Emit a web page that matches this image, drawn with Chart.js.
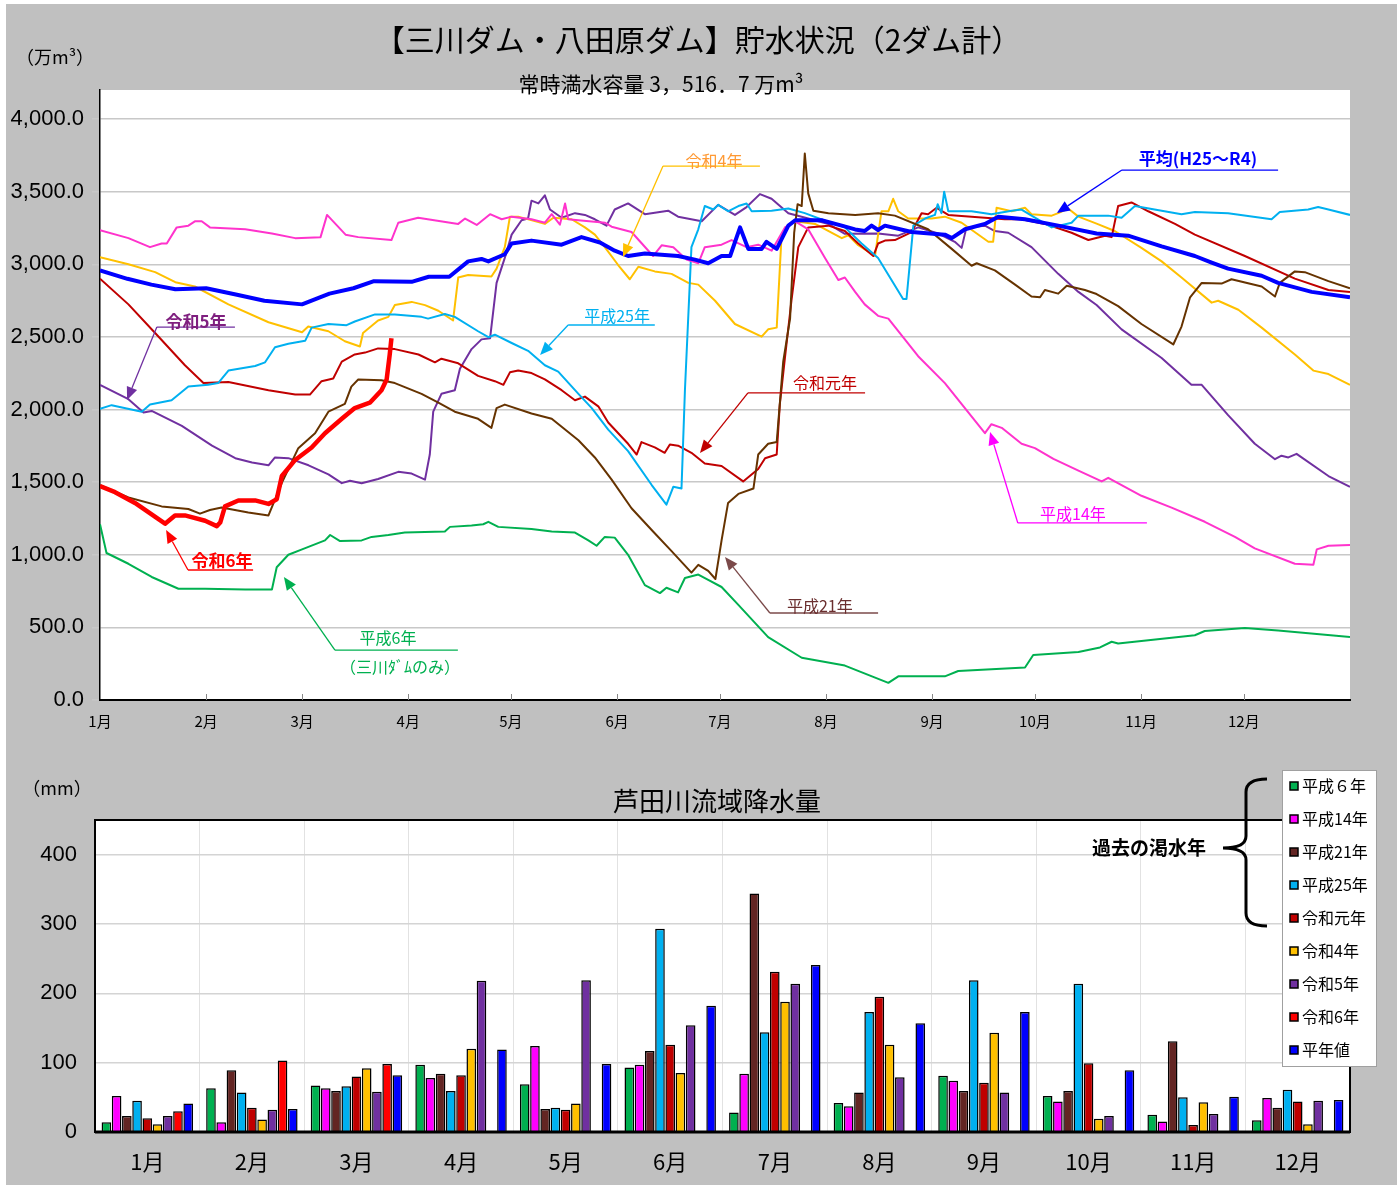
<!DOCTYPE html>
<html><head><meta charset="utf-8">
<script src="https://cdn.jsdelivr.net/npm/chart.js@4.4.1/dist/chart.umd.min.js"></script>
<style>
body{margin:0;background:#fff;width:1399px;height:1187px;overflow:hidden;position:relative}
#bg{position:absolute;left:6px;top:4px;width:1391px;height:1181px;background:#c0c0c0}
canvas{position:absolute;left:0}
</style></head>
<body>
<div id="bg"></div>
<canvas id="c1" width="1399" height="760" style="top:0"></canvas>
<canvas id="c2" width="1399" height="427" style="top:760px"></canvas>
<script>
// ---------- storage data (day of year, 万m3) ----------
const monthStarts = [0,31,59,90,120,151,181,212,243,273,304,334];
const monthLabels = ['1月','2月','3月','4月','5月','6月','7月','8月','9月','10月','11月','12月'];
const yTicksTop = [0,500,1000,1500,2000,2500,3000,3500,4000];

const avgH25R4 = [[0,2958],[8,2900],[15,2860],[22,2828],[31,2835],[40,2790],[48,2749],[59,2724],[67,2798],[74,2835],[80,2884],[91,2879],[96,2914],[102,2914],[107.5,3020],[111.4,3037],[113.4,3020],[118.2,3069],[120.2,3143],[126,3163],[134.8,3135],[140.6,3187],[146,3150],[150.3,3094],[154.2,3057],[159.1,3074],[168.8,3057],[173.7,3032],[177.6,3007],[181.5,3057],[184,3057],[186.9,3254],[189.3,3106],[193.2,3106],[194.6,3155],[197.6,3106],[201,3266],[203,3303],[210.7,3303],[216.6,3266],[220.5,3240],[223.3,3229],[225.3,3266],[227.2,3236],[229.2,3266],[237,3222],[246.7,3204],[248.7,3180],[252.6,3241],[258.4,3278],[262.3,3328],[270.1,3310],[279.8,3266],[291,3212],[300.2,3197],[310,3123],[319.7,3057],[324.6,3012],[329.4,2970],[339.2,2921],[344,2872],[353.8,2810],[365,2773]];
const r6 = [[0,1473],[4.4,1431],[10.2,1357],[19,1214],[21.9,1271],[24.8,1271],[30.7,1234],[34.1,1197],[35.1,1222],[36.5,1333],[40.4,1374],[45.3,1374],[49.2,1350],[51.6,1382],[53.1,1542],[57,1653],[61.8,1739],[65.7,1837],[70.6,1936],[74.4,2010],[78.8,2047],[82.2,2133],[83.7,2207],[84.6,2379],[85.1,2490]];
const h6 = [[0,1210],[1.9,1012],[8.3,938],[15.1,847],[22.9,766],[30.7,766],[42.4,761],[50.2,761],[51.6,914],[55,1000],[59,1037],[65.7,1099],[67.2,1136],[70.1,1094],[76.4,1099],[79.3,1123],[84.2,1136],[89,1153],[100.7,1160],[102.2,1192],[108.5,1202],[111.9,1210],[113.4,1227],[116.3,1192],[126,1177],[131.9,1160],[138.7,1153],[142.6,1099],[145,1062],[147.4,1123],[150.3,1118],[154.2,1000],[159.1,791],[163.5,736],[165.4,773],[168.8,741],[170.8,840],[174.7,864],[177.6,827],[181.5,778],[186.4,655],[195.1,433],[204.9,291],[217.5,237],[230.2,118],[233.1,163],[246.7,163],[250.6,200],[270.1,224],[272.5,310],[285.7,330],[292,362],[295.4,401],[297.3,389],[319.7,446],[322.6,475],[334.3,495],[344,478],[365,433]];
const h14 = [[0,3234],[8.3,3180],[14.6,3118],[18,3143],[19.5,3143],[22.4,3254],[25.8,3266],[27.7,3296],[29.7,3296],[32.1,3254],[42.4,3241],[50.2,3212],[57,3180],[64.4,3187],[66.3,3340],[71.7,3204],[75.4,3187],[85.1,3167],[87.1,3286],[92.9,3320],[104.6,3278],[106.6,3315],[110,3271],[113.9,3345],[117.3,3310],[120.2,3328],[126,3310],[129.9,3286],[131.9,3345],[134.3,3273],[135.8,3419],[136.7,3310],[139.7,3303],[147.5,3286],[149.4,3259],[155.2,3222],[161.5,3057],[164,3131],[167.4,3118],[171.3,3032],[174.7,3007],[176.6,3118],[181.5,3135],[184.4,3167],[188.8,3118],[192.2,3135],[196.1,3094],[200,3254],[203,3296],[206.8,3241],[211.7,3044],[215.6,2892],[217.5,2909],[220.5,2810],[223.3,2724],[227.2,2645],[230.2,2626],[238.9,2367],[246.7,2182],[258.4,1837],[260.3,1899],[263.3,1874],[269.1,1764],[273,1734],[278.4,1660],[285.7,1579],[292.5,1505],[294.4,1530],[304.1,1406],[312.9,1325],[322.6,1227],[331.4,1123],[337.2,1044],[348.9,938],[354.3,931],[355.3,1037],[358.7,1062],[365,1067]];
const h21 = [[0,1480],[8.3,1394],[18,1333],[25.8,1315],[29.2,1283],[32.1,1308],[35.5,1325],[43.3,1291],[49.2,1271],[53.1,1495],[57.9,1734],[62.8,1837],[66.7,1985],[71.5,2039],[73.4,2158],[75.4,2207],[82.2,2202],[86.1,2182],[93.9,2108],[98.8,2047],[103.6,1985],[110.4,1936],[114.3,1874],[115.8,2010],[118.2,2034],[126,1973],[131.9,1936],[139.7,1788],[144.5,1670],[149.4,1517],[155.2,1320],[161.5,1160],[166.9,1025],[172.7,877],[174.7,931],[177.6,889],[179.7,833],[181.5,1099],[183.4,1357],[186.4,1419],[190.8,1456],[192.2,1690],[195.1,1764],[197.6,1776],[199.5,2330],[201.5,2626],[202.7,3217],[203.7,3414],[204.9,3401],[205.8,3763],[206.8,3488],[208.3,3369],[212.7,3352],[220.5,3340],[227.2,3352],[232.1,3335],[241.8,3241],[248.7,3106],[254.5,2990],[256,3007],[261.3,2958],[267.2,2860],[272,2778],[274.5,2773],[275.9,2823],[279.8,2798],[282.3,2852],[287.6,2823],[291,2795],[297.3,2712],[304.1,2589],[313.4,2448],[315.8,2571],[318.3,2773],[321.7,2872],[327.5,2867],[330.4,2897],[339.2,2847],[343.1,2778],[344.5,2872],[348.9,2951],[351.8,2946],[358.7,2884],[365,2835]];
const h25 = [[0,2005],[3.4,2030],[12.2,1985],[14.6,2034],[20.9,2064],[25.8,2158],[31.6,2170],[34.5,2182],[37.5,2268],[45.3,2300],[48.2,2325],[51.1,2429],[55,2453],[59.9,2473],[61.8,2564],[66.7,2589],[72,2581],[74.4,2606],[80.3,2655],[86.1,2655],[93.9,2638],[95.8,2626],[100.7,2658],[103.6,2638],[110.4,2539],[113.4,2498],[115.3,2515],[120.2,2458],[125,2404],[129.9,2305],[133.8,2261],[139.7,2108],[143.6,2010],[148.4,1862],[154.2,1714],[161.1,1480],[165.4,1345],[167.4,1468],[169.8,1456],[170.8,2133],[172.7,3118],[174.7,3241],[176.6,3401],[179.1,3377],[180.5,3409],[183.4,3365],[186.4,3401],[188.8,3419],[190.3,3365],[196.1,3369],[201,3384],[205.8,3352],[212.7,3291],[217.5,3254],[222.4,3143],[227.2,3044],[234.5,2761],[235.5,2761],[237.5,3266],[240.9,3315],[243.8,3340],[244.6,3414],[245.7,3352],[246.5,3500],[247.7,3365],[254.5,3365],[260.3,3345],[266.2,3369],[269.1,3377],[272,3335],[277.9,3254],[283.7,3286],[285.7,3335],[294.4,3335],[298.3,3320],[302.2,3401],[310,3369],[315.8,3345],[319.7,3360],[329.4,3352],[342.1,3310],[344.5,3360],[352.8,3377],[355.7,3394],[358.7,3377],[365,3340]];
const r1 = [[0,2901],[8.3,2724],[16.1,2527],[24.8,2305],[30.2,2182],[37.5,2190],[49.2,2133],[57,2103],[61.3,2103],[64.7,2195],[68.1,2214],[70.6,2330],[74.4,2379],[77.4,2392],[81.2,2421],[86.1,2416],[93,2379],[97.8,2325],[99.7,2350],[104.6,2318],[110.4,2232],[115.3,2195],[117.8,2170],[119.7,2256],[122.1,2268],[126,2251],[129.9,2207],[134.8,2133],[138.7,2064],[141.6,2089],[145.5,2022],[148.4,1911],[154.2,1764],[156.7,1690],[158.1,1776],[162,1739],[164.9,1702],[166.4,1759],[168.8,1751],[172.7,1702],[176.6,1628],[181.5,1611],[187.8,1505],[192.2,1591],[194.2,1665],[197.6,1690],[198.5,2034],[200,2355],[201.9,2749],[203.9,3118],[206.8,3254],[212.7,3266],[217.5,3229],[221.4,3143],[225.8,3057],[227.2,3143],[229.2,3163],[232.1,3167],[237,3222],[239.9,3352],[241.8,3345],[244.3,3389],[247.7,3340],[254.5,3328],[264.2,3310],[269.1,3310],[275.9,3278],[283.7,3217],[288.6,3167],[293.5,3197],[295.4,3187],[297.3,3401],[301.2,3426],[306.1,3365],[313.9,3278],[319.7,3204],[334.3,3057],[348.9,2901],[358.7,2823],[365,2810]];
const r4 = [[0,3049],[8.3,3000],[16.1,2946],[22,2877],[27.7,2847],[37.5,2724],[49.2,2601],[59,2532],[60.8,2571],[66.7,2539],[71.5,2470],[75.9,2434],[76.8,2527],[81.2,2613],[84.2,2638],[86.1,2719],[91,2741],[94.9,2719],[98.8,2680],[103.1,2613],[104.6,2909],[107.5,2926],[114.3,2916],[115.8,2970],[118.2,3118],[119.7,3328],[122.1,3328],[129.9,3278],[132.4,3320],[137.7,3310],[141.6,3254],[144.5,3204],[147.4,3118],[151.3,2995],[154.7,2897],[157.2,2983],[162,2951],[166.9,2934],[171.8,2872],[174.7,2860],[179.6,2749],[185.4,2589],[193.2,2502],[195.1,2552],[197.6,2564],[199,3192],[201,3266],[203,3296],[208.8,3278],[216.6,3180],[218.5,3200],[221.4,3131],[226.3,3057],[228.2,3365],[230.2,3365],[231.6,3451],[233.1,3365],[236,3315],[242.8,3315],[246.7,3328],[251.6,3286],[259.4,3155],[260.8,3155],[261.8,3389],[266.2,3365],[270.1,3389],[272,3345],[277.9,3335],[279.8,3352],[282.7,3384],[285.7,3328],[291,3280],[296.3,3229],[304.1,3113],[310,3020],[315.8,2909],[324.6,2736],[326.5,2749],[332.4,2687],[339.2,2564],[348.9,2379],[354.3,2268],[358.7,2244],[365,2170]];
const r5 = [[0,2170],[8.3,2071],[12.7,1980],[15.1,1990],[23.9,1887],[32.7,1751],[39.5,1665],[44.4,1635],[49.2,1616],[51.1,1670],[55,1665],[60.9,1616],[66.7,1554],[70.6,1493],[73,1510],[76.4,1493],[81.2,1522],[87.1,1571],[91,1559],[94.9,1517],[96.3,1690],[97.3,1985],[99.7,2108],[103.6,2133],[105.1,2281],[108.5,2416],[111.4,2483],[113.9,2490],[115.8,2872],[118.2,3044],[120.2,3204],[123.1,3303],[125,3315],[126,3438],[128,3419],[129.9,3475],[131.4,3377],[134.8,3320],[138.7,3352],[141.6,3340],[144.5,3310],[147.9,3266],[150.3,3377],[154.2,3419],[159.1,3345],[165.9,3369],[168.8,3328],[175.7,3296],[180.5,3409],[185.4,3340],[188.8,3394],[192.7,3483],[196.1,3451],[201,3352],[206.8,3315],[212.7,3278],[217.5,3210],[227.2,3212],[233.1,3197],[238.9,3254],[244.8,3212],[249.6,3155],[251.6,3113],[253,3254],[258.4,3266],[261.3,3229],[265.2,3217],[272,3118],[279.8,2934],[285.7,2810],[291,2720],[298.3,2552],[310,2355],[318.7,2170],[321.7,2170],[329.4,1961],[337.2,1764],[343.1,1658],[345,1682],[347,1670],[349.4,1695],[358.7,1542],[365,1468]];

// ---------- monthly rainfall (mm) ----------
const rainLabels = ['平成６年','平成14年','平成21年','平成25年','令和元年','令和4年','令和5年','令和6年','平年値'];
const rainH6  = [14,63,67,97,69,93,28,42,81,52,25,17];
const rainH14 = [52,14,63,78,124,97,84,37,74,44,15,49];
const rainH21 = [23,89,59,84,33,117,344,57,59,59,131,35];
const rainH25 = [45,57,66,59,35,293,144,173,219,214,50,61];
const rainR1  = [20,35,80,82,32,126,231,195,71,99,10,44];
const rainR4  = [11,18,92,120,41,85,188,126,143,19,43,11];
const rainR5  = [23,32,58,218,219,154,214,79,57,23,26,45];
const rainR6  = [30,103,98,null,null,null,null,null,null,null,null,null];
const rainAvg = [41,33,82,119,98,182,241,157,173,89,51,46];

const FONT = "'Noto Sans CJK JP','Noto Sans',sans-serif";
Chart.defaults.font.family = FONT;
Chart.defaults.color = '#000';
Chart.defaults.animation = false;

const toXY = arr => arr.map(p => ({x:p[0], y:p[1]}));

// annotations in data coordinates
const notes = [
  {t:'令和5年', c:'#7f1f7f', lc:'#7030a0', b:true, tx:28, ty:2609, u:[16.6,39.4,2568], tip:[7.9,2065]},
  {t:'令和4年', c:'#ff9933', lc:'#ffc000', b:false, tx:179.3, ty:3711, u:[164.4,192.7,3676], tip:[152.7,3050]},
  {t:'平均(H25～R4)', c:'#0000ff', lc:'#0000ff', b:true, tx:320.6, ty:3725, u:[298.4,344,3649], tip:[279.4,3353]},
  {t:'平成25年', c:'#00b0f0', lc:'#00b0f0', b:false, tx:151, ty:2644, u:[136.7,162,2582], tip:[128.5,2375]},
  {t:'令和元年', c:'#c00000', lc:'#c00000', b:false, tx:211.7, ty:2182, u:[189.2,223.4,2114], tip:[175.2,1700]},
  {t:'平成14年', c:'#ff00ff', lc:'#ff00ff', b:false, tx:284.1, ty:1281, u:[268,305.7,1219], tip:[259.9,1845]},
  {t:'平成21年', c:'#6b2f2f', lc:'#7b4a4a', b:false, tx:210.2, ty:647, u:[195.6,227.2,599], tip:[182.5,985]},
  {t:'平成6年', c:'#00b050', lc:'#00b050', b:false, tx:84.1, ty:427, u:[68.6,104.5,344], tip:[53.7,847], t2:'（三川ﾀﾞﾑのみ）', t2x:87.6, t2y:227},
  {t:'令和6年', c:'#ff0000', lc:'#ff0000', b:true, tx:35.6, ty:957, u:[25.7,44.7,895], tip:[19.3,1170]}
];

function arrow(ctx,x1,y1,x2,y2,color){
  ctx.save();
  ctx.strokeStyle=color; ctx.fillStyle=color; ctx.lineWidth=1.3;
  const a=Math.atan2(y2-y1,x2-x1), L=13, W=5.5;
  const bx=x2-L*Math.cos(a), by=y2-L*Math.sin(a);
  ctx.beginPath(); ctx.moveTo(x1,y1); ctx.lineTo(bx,by); ctx.stroke();
  ctx.beginPath(); ctx.moveTo(x2,y2);
  ctx.lineTo(bx+W*Math.sin(a), by-W*Math.cos(a));
  ctx.lineTo(bx-W*Math.sin(a), by+W*Math.cos(a));
  ctx.closePath(); ctx.fill();
  ctx.restore();
}

const topDeco = {
  id:'topDeco',
  beforeDraw(chart){
    const {ctx, chartArea:a} = chart;
    ctx.save(); ctx.fillStyle='#fff';
    ctx.fillRect(a.left,a.top,a.right-a.left,a.bottom-a.top);
    ctx.restore();
  },
  afterDraw(chart){
    const {ctx, chartArea:a} = chart;
    const xs = chart.scales.x, ys = chart.scales.y;
    ctx.save();
    // month tick marks (pointing inward)
    ctx.strokeStyle='#888'; ctx.lineWidth=1;
    monthStarts.forEach(d=>{ if(d===0) return; const px=Math.round(xs.getPixelForValue(d))+0.5; ctx.beginPath(); ctx.moveTo(px,a.bottom); ctx.lineTo(px,a.bottom-6); ctx.stroke(); });
    // titles
    ctx.fillStyle='#000'; ctx.textAlign='center'; ctx.textBaseline='middle';
    ctx.font="30px "+FONT;
    ctx.fillText('【三川ダム・八田原ダム】貯水状況（2ダム計）',698,40);
    ctx.font="21px "+FONT;
    ctx.fillText('常時満水容量 3，516．7 万m³',661,84);
    ctx.font="18px "+FONT;
    ctx.fillText('（万m³）',55,57);
    // annotations
    notes.forEach(n=>{
      const ux1=xs.getPixelForValue(n.u[0]), ux2=xs.getPixelForValue(n.u[1]), uy=ys.getPixelForValue(n.u[2]);
      ctx.strokeStyle=n.lc; ctx.lineWidth=1.3;
      ctx.beginPath(); ctx.moveTo(ux1,uy); ctx.lineTo(ux2,uy); ctx.stroke();
      arrow(ctx,ux1,uy,xs.getPixelForValue(n.tip[0]),ys.getPixelForValue(n.tip[1]),n.lc);
      ctx.fillStyle=n.c;
      ctx.font=(n.b?'bold 17px ':'16px ')+FONT;
      ctx.fillText(n.t,xs.getPixelForValue(n.tx),ys.getPixelForValue(n.ty));
      if(n.t2){ ctx.font='16px '+FONT; ctx.fillText(n.t2,xs.getPixelForValue(n.t2x),ys.getPixelForValue(n.t2y)); }
    });
    ctx.restore();
  }
};

const lineDefs = [
  {label:'令和6年', data:r6, color:'#ff0000', w:4.5},
  {label:'平均(H25～R4)', data:avgH25R4, color:'#0000ff', w:4},
  {label:'平成6年', data:h6, color:'#00b050', w:2},
  {label:'平成14年', data:h14, color:'#ff33cc', w:2},
  {label:'平成21年', data:h21, color:'#663300', w:2},
  {label:'平成25年', data:h25, color:'#00b0f0', w:2},
  {label:'令和元年', data:r1, color:'#c00000', w:2},
  {label:'令和4年', data:r4, color:'#ffc000', w:2},
  {label:'令和5年', data:r5, color:'#7030a0', w:2}
];

new Chart(document.getElementById('c1'), {
  type:'line',
  data:{datasets: lineDefs.map(d=>({label:d.label, data:toXY(d.data), borderColor:d.color, borderWidth:d.w, pointRadius:0, tension:0, fill:false, borderJoinStyle:'round'}))},
  options:{
    responsive:false, devicePixelRatio:1,
    layout:{padding:{top:90,right:49,left:0,bottom:0}},
    plugins:{legend:{display:false}, tooltip:{enabled:false}},
    scales:{
      x:{type:'linear', min:0, max:365,
        afterBuildTicks(s){ s.ticks = monthStarts.map(v=>({value:v})); },
        afterFit(s){ s.height=60; },
        ticks:{autoSkip:false, maxRotation:0, padding:12, font:{size:15}, callback:v=>monthLabels[monthStarts.indexOf(v)]},
        grid:{display:true, drawOnChartArea:false, drawTicks:false},
        border:{color:'#000', width:2}
      },
      y:{min:0, max:4200,
        afterBuildTicks(s){ s.ticks = yTicksTop.map(v=>({value:v})); },
        afterFit(s){ s.width=100; },
        ticks:{padding:8, font:{size:22, family:"'Liberation Sans Narrow','Liberation Sans',sans-serif"},
          callback:v=>v.toLocaleString('en-US',{minimumFractionDigits:1, maximumFractionDigits:1})},
        grid:{color:'#c8c8c8', lineWidth:1.5, tickLength:8},
        border:{color:'#000', width:1.5}
      }
    }
  },
  plugins:[topDeco]
});

// ---------- bar chart ----------
const barColors = ['#00b050','#ff00ff','#632523','#00b0f0','#c00000','#ffc000','#7030a0','#ff0000','#0000ff'];
const rainSeries = [rainH6,rainH14,rainH21,rainH25,rainR1,rainR4,rainR5,rainR6,rainAvg];
const yTicksBottom = [0,100,200,300,400];

const botDeco = {
  id:'botDeco',
  beforeDraw(chart){
    const {ctx, chartArea:a} = chart;
    ctx.save(); ctx.fillStyle='#fff';
    ctx.fillRect(a.left,a.top,a.right-a.left,a.bottom-a.top);
    ctx.restore();
  },
  afterDraw(chart){
    const {ctx, chartArea:a} = chart;
    ctx.save();
    ctx.strokeStyle='#000'; ctx.lineWidth=2;
    ctx.beginPath(); ctx.moveTo(a.left,a.top); ctx.lineTo(a.right,a.top); ctx.lineTo(a.right,a.bottom); ctx.stroke();
    ctx.lineWidth=3; ctx.beginPath(); ctx.moveTo(a.left,a.bottom); ctx.lineTo(a.right,a.bottom); ctx.stroke();
    ctx.fillStyle='#000'; ctx.textAlign='center'; ctx.textBaseline='middle';
    ctx.font='26px '+FONT; ctx.fillText('芦田川流域降水量',717,41);
    ctx.font='18px '+FONT; ctx.fillText('（mm）',57,28);
    // legend
    ctx.fillStyle='#fff'; ctx.fillRect(1282,10,94,296);
    ctx.strokeStyle='#a0a0a0'; ctx.lineWidth=1; ctx.strokeRect(1282.5,10.5,94,296);
    ctx.textAlign='left';
    chart.data.datasets.forEach((ds,i)=>{
      const y=26+i*33;
      ctx.fillStyle=ds.backgroundColor; ctx.fillRect(1290,y-4,8,8);
      ctx.strokeStyle='#000'; ctx.lineWidth=1.5; ctx.strokeRect(1290,y-4,8,8);
      ctx.fillStyle='#000'; ctx.font='16px '+FONT; ctx.fillText(ds.label,1302,y);
    });
    // past drought note with brace
    ctx.textAlign='center'; ctx.font='bold 19px '+FONT;
    ctx.fillText('過去の渇水年',1149,88);
    ctx.strokeStyle='#000'; ctx.lineWidth=3;
    ctx.beginPath();
    ctx.moveTo(1267,19);
    ctx.quadraticCurveTo(1246,19,1246,32);
    ctx.lineTo(1246,76);
    ctx.quadraticCurveTo(1246,88,1223,88);
    ctx.quadraticCurveTo(1246,88,1246,100);
    ctx.lineTo(1246,153);
    ctx.quadraticCurveTo(1246,166,1267,166);
    ctx.stroke();
    ctx.restore();
  }
};

new Chart(document.getElementById('c2'), {
  type:'bar',
  data:{labels:monthLabels, datasets: rainSeries.map((s,i)=>({label:rainLabels[i], data:s, backgroundColor:barColors[i], borderColor:'#000', borderWidth:1.5, borderSkipped:'start'}))},
  options:{
    responsive:false, devicePixelRatio:1,
    categoryPercentage:0.88, barPercentage:0.94,
    layout:{padding:{top:60,right:49,left:0,bottom:0}},
    plugins:{legend:{display:false}, tooltip:{enabled:false}},
    scales:{
      x:{afterFit(s){ s.height=55; },
        ticks:{padding:16, font:{size:22}},
        grid:{offset:true, color:'#e2e2e2', drawTicks:false},
        border:{color:'#000', width:2}
      },
      y:{min:0, max:450,
        afterBuildTicks(s){ s.ticks = yTicksBottom.map(v=>({value:v})); },
        afterFit(s){ s.width=95; },
        ticks:{padding:18, font:{size:22, family:"'Liberation Sans','Noto Sans',sans-serif"}},
        grid:{color:'#d4d4d4', lineWidth:1.5, drawTicks:false},
        border:{color:'#000', width:2}
      }
    }
  },
  plugins:[botDeco]
});
</script>
</body></html>
